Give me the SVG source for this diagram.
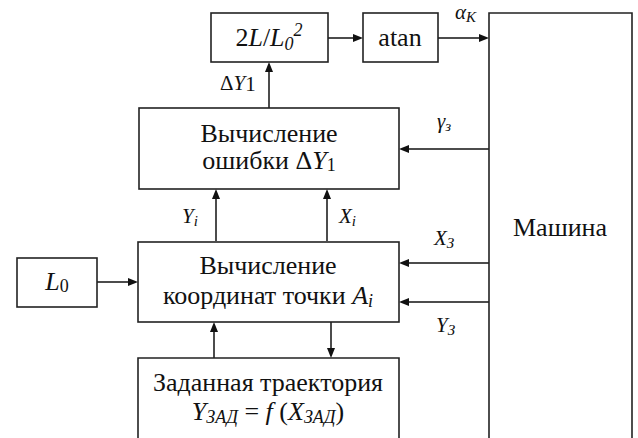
<svg xmlns="http://www.w3.org/2000/svg" width="638" height="438" viewBox="0 0 638 438" font-family="Liberation Serif">
<g id="connectors" stroke="#111" stroke-width="1.5" fill="#111">
<path d="M328,38 H354" fill="none"/><polygon points="363,38 353,34 353,42" stroke="none"/>
<path d="M438,38 H480" fill="none"/><polygon points="489,38 479,34 479,42" stroke="none"/>
<path d="M269,108 V71" fill="none"/><polygon points="269,62 265,72 273,72" stroke="none"/>
<path d="M489,149 H408" fill="none"/><polygon points="399,149 409,145 409,153" stroke="none"/>
<path d="M216,241 V198" fill="none"/><polygon points="216,189 212,199 220,199" stroke="none"/>
<path d="M327,241 V198" fill="none"/><polygon points="327,189 323,199 331,199" stroke="none"/>
<path d="M97,282 H129" fill="none"/><polygon points="138,282 128,278 128,286" stroke="none"/>
<path d="M489,263 H408" fill="none"/><polygon points="399,263 409,259 409,267" stroke="none"/>
<path d="M489,302 H408" fill="none"/><polygon points="399,302 409,298 409,306" stroke="none"/>
<path d="M214,358 V331" fill="none"/><polygon points="214,322 210,332 218,332" stroke="none"/>
<path d="M331,322 V349" fill="none"/><polygon points="331,358 327,348 335,348" stroke="none"/>
</g>
<text font-family="Liberation Serif" font-size="21" fill="#111" x="455" y="19"><tspan font-style="italic">α</tspan><tspan font-style="italic" font-size="15" dy="3">K</tspan></text>
<text font-family="Liberation Serif" font-size="21" fill="#111" x="437" y="128"><tspan font-style="italic">γ</tspan><tspan font-style="italic" font-size="15" dy="3">з</tspan></text>
<text font-family="Liberation Serif" font-size="21" fill="#111" x="434" y="245"><tspan font-style="italic">X</tspan><tspan font-style="italic" font-size="15" dy="3">З</tspan></text>
<text font-family="Liberation Serif" font-size="21" fill="#111" x="436" y="332"><tspan font-style="italic">Y</tspan><tspan font-style="italic" font-size="15" dy="3">З</tspan></text>
<text font-family="Liberation Serif" font-size="21" fill="#111" x="220" y="90">Δ<tspan font-style="italic">Y</tspan><tspan dy="1">1</tspan></text>
<text font-family="Liberation Serif" font-size="21" fill="#111" x="182" y="223"><tspan font-style="italic">Y</tspan><tspan font-style="italic" font-size="15" dy="3">i</tspan></text>
<text font-family="Liberation Serif" font-size="21" fill="#111" x="339" y="223"><tspan font-style="italic">X</tspan><tspan font-style="italic" font-size="15" dy="3">i</tspan></text>
<g id="n_ratio">
<rect x="211" y="13" width="117" height="49" fill="#fff" stroke="#222" stroke-width="1.6"/>
<text font-family="Liberation Serif" font-size="26" text-anchor="middle" fill="#111" x="269" y="46">2<tspan font-style="italic">L</tspan>/<tspan font-style="italic">L</tspan><tspan font-style="italic" font-size="18" dy="4">0</tspan><tspan font-style="italic" font-size="18" dy="-14">2</tspan></text>
</g>
<g id="n_atan">
<rect x="363" y="13" width="75" height="49" fill="#fff" stroke="#222" stroke-width="1.6"/>
<text font-family="Liberation Serif" font-size="26" text-anchor="middle" fill="#111" x="400" y="46">atan</text>
</g>
<g id="n_machine">
<path d="M489,440 V13 H632 V440" fill="#fff" stroke="#222" stroke-width="1.6"/>
<text font-family="Liberation Serif" font-size="26" text-anchor="middle" fill="#111" x="560" y="236">Машина</text>
</g>
<g id="n_error">
<rect x="139" y="108" width="260" height="81" fill="#fff" stroke="#222" stroke-width="1.6"/>
<text font-family="Liberation Serif" font-size="26" text-anchor="middle" fill="#111" x="269" y="142">Вычисление</text>
<text font-family="Liberation Serif" font-size="26" text-anchor="middle" fill="#111" x="269" y="169">ошибки Δ<tspan font-style="italic">Y</tspan><tspan font-size="18" dy="2">1</tspan></text>
</g>
<g id="n_L0">
<rect x="17" y="258" width="80" height="49" fill="#fff" stroke="#222" stroke-width="1.6"/>
<text font-family="Liberation Serif" font-size="26" text-anchor="middle" fill="#111" x="57" y="290"><tspan font-style="italic">L</tspan><tspan font-size="18" dy="2">0</tspan></text>
</g>
<g id="n_coord">
<rect x="138" y="242" width="261" height="80" fill="#fff" stroke="#222" stroke-width="1.6"/>
<text font-family="Liberation Serif" font-size="26" text-anchor="middle" fill="#111" x="268" y="274">Вычисление</text>
<text font-family="Liberation Serif" font-size="26" text-anchor="middle" fill="#111" x="268" y="304">координат точки <tspan font-style="italic">A</tspan><tspan font-style="italic" font-size="18" dy="3">i</tspan></text>
</g>
<g id="n_traj">
<path d="M138,440 V358 H399 V440" fill="#fff" stroke="#222" stroke-width="1.6"/>
<text font-family="Liberation Serif" font-size="26" text-anchor="middle" fill="#111" x="268" y="391">Заданная траектория</text>
<text font-family="Liberation Serif" font-size="26" text-anchor="middle" fill="#111" x="268" y="420"><tspan font-style="italic">Y</tspan><tspan font-style="italic" font-size="18" dy="3">ЗАД</tspan><tspan dy="-3"> = </tspan><tspan font-style="italic">f</tspan> (<tspan font-style="italic">X</tspan><tspan font-style="italic" font-size="18" dy="3">ЗАД</tspan><tspan dy="-3">)</tspan></text>
</g>
</svg>
